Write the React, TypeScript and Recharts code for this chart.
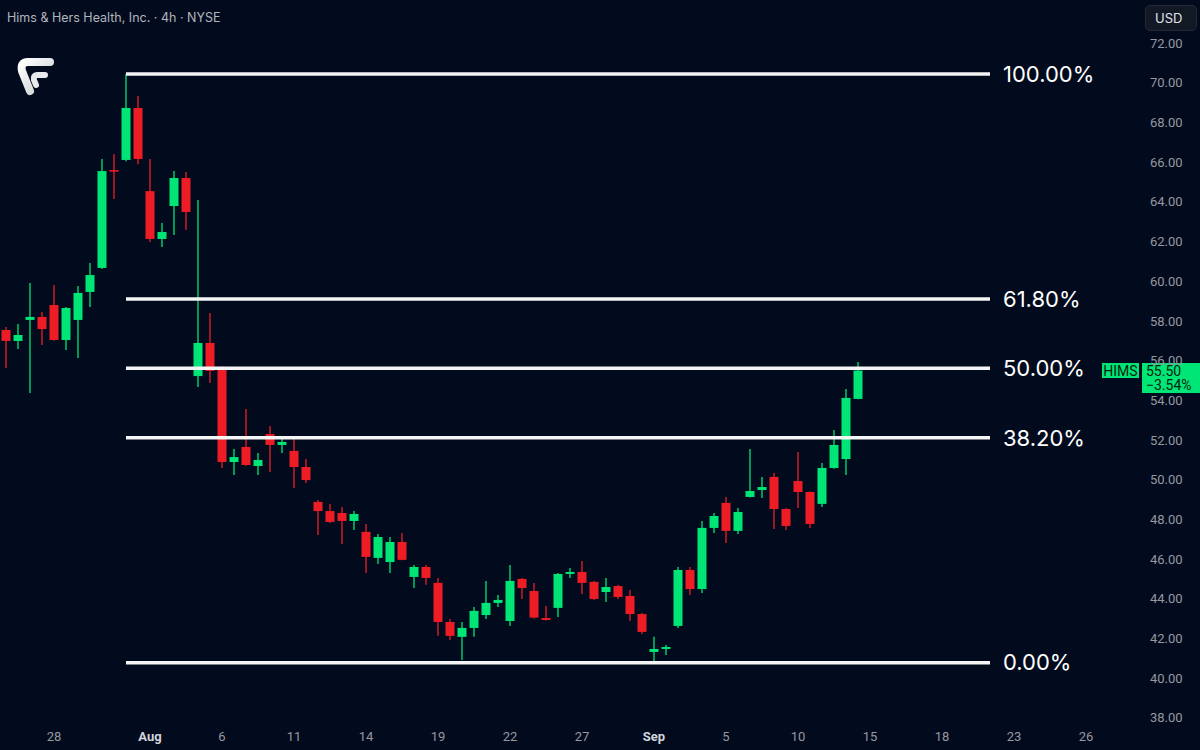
import React from "react";
import {
  ComposedChart,
  Bar,
  XAxis,
  YAxis,
  ReferenceLine,
} from "recharts";

const BG = "#020b1d";
const GREEN = "#00e676";
const RED = "#ee1c25";
const AXIS_TEXT = "#9598a1";

// 4h bars, two per NYSE session day
const tradingDays = [
  "2025-07-24", "2025-07-25",
  "2025-07-28", "2025-07-29", "2025-07-30", "2025-07-31", "2025-08-01",
  "2025-08-04", "2025-08-05", "2025-08-06", "2025-08-07", "2025-08-08",
  "2025-08-11", "2025-08-12", "2025-08-13", "2025-08-14", "2025-08-15",
  "2025-08-18", "2025-08-19", "2025-08-20", "2025-08-21", "2025-08-22",
  "2025-08-25", "2025-08-26", "2025-08-27", "2025-08-28", "2025-08-29",
  "2025-09-02", "2025-09-03", "2025-09-04", "2025-09-05",
  "2025-09-08", "2025-09-09", "2025-09-10", "2025-09-11", "2025-09-12",
  "2025-09-15", "2025-09-16", "2025-09-17", "2025-09-18", "2025-09-19",
  "2025-09-22", "2025-09-23", "2025-09-24", "2025-09-25", "2025-09-26",
  "2025-09-29", "2025-09-30",
];
const sessions = ["09:30", "13:30"];

const opens = [
  57.54, 56.99, 58.05, 58.2, 58.8, 57.04, 58.05, 59.46, 60.67, 65.6,
  66.11, 68.73, 64.54, 62.13, 63.79, 65.2, 55.22, 56.89, 55.68, 50.89,
  51.65, 50.69, 52.3, 51.75, 51.45, 50.64, 48.88, 48.42, 48.32, 47.92,
  47.37, 46.06, 45.85, 46.86, 45.1, 45.6, 44.8, 42.83, 42.08, 42.53,
  43.18, 43.79, 42.88, 45.0, 44.39, 43.03, 43.54, 45.25, 45.35, 44.85,
  44.34, 44.64, 44.14, 43.23, 41.32, 41.47, 42.63, 45.45, 44.49, 47.57,
  48.83, 47.42, 49.13, 49.48, 50.14, 48.52, 49.93, 49.38, 48.78, 50.59,
  51.04, 54.07,
];
const highs = [
  57.69, 57.84, 59.91, 58.45, 59.81, 58.7, 59.76, 60.92, 66.16, 66.41,
  70.44, 69.33, 66.16, 62.93, 65.55, 65.5, 64.09, 58.4, 55.7, 51.55,
  53.56, 51.35, 52.71, 52.1, 52.05, 51.04, 48.98, 48.78, 48.62, 48.42,
  47.77, 47.26, 47.11, 47.31, 45.7, 45.7, 45.05, 42.98, 42.83, 43.59,
  44.9, 44.19, 45.7, 45.05, 44.8, 43.64, 45.3, 45.55, 45.9, 44.9,
  45.05, 44.7, 44.44, 43.28, 42.08, 41.67, 45.6, 45.6, 47.92, 48.32,
  49.13, 48.57, 51.55, 50.14, 50.34, 48.57, 51.4, 49.4, 50.84, 52.5,
  54.57, 55.93,
];
const lows = [
  55.63, 56.58, 54.37, 56.79, 57.0, 56.53, 56.13, 58.7, 60.61, 64.14,
  66.05, 65.9, 61.97, 61.72, 62.33, 62.58, 54.67, 54.87, 50.59, 50.24,
  50.7, 50.24, 50.39, 51.35, 49.58, 49.83, 47.21, 47.82, 46.76, 47.47,
  45.3, 45.75, 45.3, 45.94, 44.54, 44.7, 42.13, 41.92, 40.92, 42.08,
  42.98, 43.59, 42.63, 43.99, 43.0, 42.9, 43.08, 45.05, 44.24, 43.94,
  43.84, 43.99, 42.88, 42.23, 40.82, 41.17, 42.53, 44.19, 44.29, 47.31,
  46.81, 47.26, 49.1, 49.08, 47.52, 47.47, 48.57, 47.57, 48.62, 50.55,
  50.24, 54.05,
];
const closes = [
  56.99, 57.29, 58.2, 57.59, 57.04, 58.65, 59.41, 60.31, 65.55, 65.58,
  68.73, 66.16, 62.13, 62.48, 65.2, 63.49, 56.89, 55.48, 50.89, 51.14,
  50.74, 50.99, 51.75, 51.9, 50.64, 49.98, 48.42, 47.87, 47.92, 48.27,
  46.11, 47.11, 46.86, 45.96, 45.6, 45.05, 42.83, 42.13, 42.53, 43.39,
  43.79, 43.94, 44.9, 44.54, 43.05, 42.93, 45.25, 45.35, 44.8, 43.99,
  44.59, 44.09, 43.23, 42.33, 41.47, 41.57, 45.45, 44.49, 47.57, 48.17,
  47.42, 48.37, 49.43, 49.63, 48.52, 47.67, 49.38, 47.77, 50.59, 51.75,
  54.12, 55.5,
];

const xTickLabels: [string, string][] = [
  ["2025-07-28", "28"],
  ["2025-08-01", "Aug"],
  ["2025-08-06", "6"],
  ["2025-08-11", "11"],
  ["2025-08-14", "14"],
  ["2025-08-19", "19"],
  ["2025-08-22", "22"],
  ["2025-08-27", "27"],
  ["2025-09-02", "Sep"],
  ["2025-09-05", "5"],
  ["2025-09-10", "10"],
  ["2025-09-15", "15"],
  ["2025-09-18", "18"],
  ["2025-09-23", "23"],
  ["2025-09-26", "26"],
];

const priceTicks = [38, 40, 42, 44, 46, 48, 50, 52, 54, 56, 58, 60, 62, 64, 66, 68, 70, 72];

// fib retracement anchors (swing high / swing low)
const fibHigh = 70.44;
const fibLow = 40.78;
const fibRatios = [1, 0.618, 0.5, 0.382, 0];
const fibLabels = ["100.00%", "61.80%", "50.00%", "38.20%", "0.00%"];
const fibStartBar = 10;
const fibEndBar = 82;

const lastPrice = 55.5;
const lastChange = "\u22123.54%";

const slots = tradingDays
  .flatMap((d) => sessions.map((s) => `${d} ${s}`))
  .slice(0, 95);

const data = slots.map((slot, i) =>
  i < opens.length
    ? { slot, open: opens[i], high: highs[i], low: lows[i], close: closes[i] }
    : { slot }
);

const tickMap: Record<string, string> = {};
xTickLabels.forEach(([d, t]) => {
  tickMap[`${d} ${sessions[0]}`] = t;
});
const xTicks = Object.keys(tickMap);

function Candle(props: any) {
  const { x, y, width, height, payload } = props;
  if (!payload || payload.open == null) return null;
  const { open, close, high, low } = payload;
  const color = close >= open ? GREEN : RED;
  const top = Math.min(y, y + height);
  const h = Math.abs(height);
  const ppu = h / (high - low);
  const yOf = (v: number) => top + (high - v) * ppu;
  const cx = x + width / 2;
  const bTop = yOf(Math.max(open, close));
  const bBot = yOf(Math.min(open, close));
  return (
    <g>
      <line x1={cx} x2={cx} y1={top} y2={top + h} stroke={color} strokeWidth={1.3} />
      <rect x={cx - 4.5} y={bTop} width={9} height={Math.max(bBot - bTop, 1.6)} fill={color} />
    </g>
  );
}

function XTick(props: any) {
  const { x, y, payload } = props;
  const text = tickMap[payload.value] || "";
  const isMonth = /[A-Za-z]/.test(text);
  return (
    <text
      x={x}
      y={y}
      dy={10}
      textAnchor="middle"
      fill={isMonth ? "#d1d4dc" : AXIS_TEXT}
      fontWeight={isMonth ? 700 : 400}
      fontSize={13}
      fontFamily="Roboto, sans-serif"
    >
      {text}
    </text>
  );
}

function PriceTag(props: any) {
  const vb = props.viewBox || {};
  const right = vb.x + vb.width;
  const cy = vb.y;
  return (
    <g fontFamily="Roboto, sans-serif" fontSize={14}>
      <rect x={right - 38} y={cy - 7.5} width={37} height={15} fill={GREEN} />
      <text x={right - 19.5} y={cy + 5} textAnchor="middle" fill="#06210f">
        HIMS
      </text>
      <rect x={right + 2} y={cy - 7.5} width={58} height={30} fill={GREEN} />
      <text x={right + 6} y={cy + 5} fill="#06210f">
        {lastPrice.toFixed(2)}
      </text>
      <text x={right + 6} y={cy + 19.5} fill="#06210f">
        {lastChange}
      </text>
    </g>
  );
}

function Logo() {
  return (
    <svg width={44} height={44} viewBox="0 0 44 44" style={{ position: "absolute", left: 12, top: 54 }}>
      <defs>
        <linearGradient id="lg" x1="0" y1="0" x2="1" y2="1">
          <stop offset="0" stopColor="#ffffff" />
          <stop offset="1" stopColor="#c9cbd0" />
        </linearGradient>
      </defs>
      <path
        d="M38 8 L16 8 Q8 8 10 17 L18 37"
        fill="none"
        stroke="url(#lg)"
        strokeWidth={8}
        strokeLinecap="round"
        strokeLinejoin="round"
      />
      <path
        d="M33 21 L25 21 Q21 21 22 26 L24 31"
        fill="none"
        stroke="#e8e9ec"
        strokeWidth={6}
        strokeLinecap="round"
        strokeLinejoin="round"
      />
    </svg>
  );
}

export default function App() {
  return (
    <div
      style={{
        position: "fixed",
        left: 0,
        top: 0,
        width: 1200,
        height: 750,
        background: BG,
        overflow: "hidden",
      }}
    >
      <div
        style={{
          position: "absolute",
          left: 7,
          top: 10,
          fontFamily: "Inter, sans-serif",
          fontSize: 12.5,
          color: "#b2b5be",
          zIndex: 2,
        }}
      >
        Hims &amp; Hers Health, Inc. · 4h · NYSE
      </div>
      <div
        style={{
          position: "absolute",
          left: 1145,
          top: 5,
          width: 52,
          height: 26,
          boxSizing: "border-box",
          borderRadius: 5,
          background: "#121925",
          border: "1px solid #232a36",
          color: "#e0e3eb",
          fontFamily: "Inter, sans-serif",
          fontSize: 13,
          lineHeight: "24px",
          paddingLeft: 9,
          zIndex: 2,
        }}
      >
        USD
      </div>
      <Logo />
      <ComposedChart
        width={1200}
        height={750}
        data={data}
        margin={{ top: 0, right: 0, left: 0, bottom: 0 }}
        barCategoryGap={0}
      >
        <XAxis
          dataKey="slot"
          height={28}
          ticks={xTicks}
          interval={0}
          axisLine={false}
          tickLine={false}
          tickSize={0}
          tickMargin={9}
          tick={<XTick />}
        />
        <YAxis
          orientation="right"
          width={60}
          domain={[37.79, 74.17]}
          ticks={priceTicks}
          allowDataOverflow
          axisLine={false}
          tickLine={false}
          tickSize={0}
          tickMargin={10}
          tickFormatter={(v: number) => v.toFixed(2)}
          tick={{ fill: AXIS_TEXT, fontSize: 13, fontFamily: "Roboto, sans-serif", textAnchor: "start" }}
        />
        <Bar
          dataKey={(d: any) => (d.open == null ? undefined : [d.low, d.high])}
          shape={<Candle />}
          isAnimationActive={false}
        />
        {fibRatios.map((r, i) => {
          const level = fibLow + (fibHigh - fibLow) * r;
          return (
            <ReferenceLine
              key={fibLabels[i]}
              ifOverflow="visible"
              segment={[
                { x: slots[fibStartBar], y: level },
                { x: slots[fibEndBar], y: level },
              ]}
              stroke="#f5f5f5"
              strokeWidth={3.5}
              label={{
                value: fibLabels[i],
                position: "right",
                offset: 13,
                fill: "#ffffff",
                fontSize: 22,
                fontFamily: "Inter, sans-serif",
              }}
            />
          );
        })}
        <ReferenceLine
          y={lastPrice}
          stroke="none"
          ifOverflow="visible"
          label={<PriceTag />}
        />
      </ComposedChart>
    </div>
  );
}
